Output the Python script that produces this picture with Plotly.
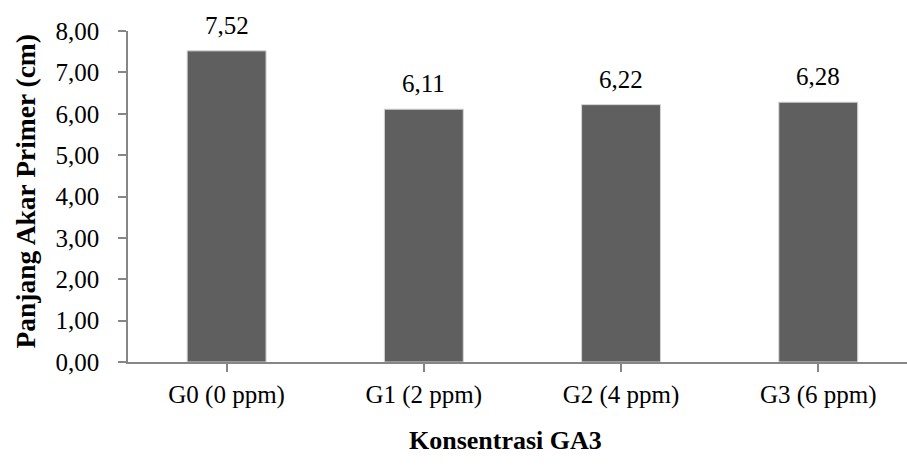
import plotly.graph_objects as go

categories = ["G0 (0 ppm)", "G1 (2 ppm)", "G2 (4 ppm)", "G3 (6 ppm)"]
values = [7.52, 6.11, 6.22, 6.28]
value_labels = ["7,52", "6,11", "6,22", "6,28"]
y_title = "Panjang Akar Primer (cm)"
x_title = "Konsentrasi GA3"

FONT = "Liberation Serif"
AXIS = "#868686"

W, H = 907, 466
L, R, T, B = 128, 0, 31, 104

fig = go.Figure()
fig.add_trace(go.Bar(
    x=list(range(len(categories))), y=values,
    width=0.4,
    marker=dict(color="#5f5f5f", line=dict(color="#d4d4d4", width=1)),
    hoverinfo="skip",
))

for i, (v, lab) in enumerate(zip(values, value_labels)):
    fig.add_annotation(x=i, y=v, text=lab, showarrow=False, xref="x", yref="y",
                       yanchor="bottom", yshift=10,
                       font=dict(family=FONT, size=25, color="black"))

fig.add_annotation(text="<b>%s</b>" % y_title, textangle=-90, showarrow=False,
                   xref="paper", yref="paper", x=-(L - 25) / (W - L - R), xanchor="center",
                   y=0.5, yanchor="middle", yshift=5,
                   font=dict(family=FONT, size=27.5, color="black"))
fig.add_annotation(text="<b>%s</b>" % x_title, showarrow=False,
                   xref="paper", yref="paper", x=(505 - L) / (W - L - R), xanchor="center",
                   y=-(440 - (H - B)) / (H - T - B), yanchor="middle",
                   font=dict(family=FONT, size=26, color="black"))

fig.update_layout(
    width=W, height=H,
    margin=dict(l=L, r=R, t=T, b=B, pad=0),
    paper_bgcolor="white", plot_bgcolor="white",
    separators=",.",
    showlegend=False,
    font=dict(family=FONT, size=25, color="black"),
)
fig.update_xaxes(
    range=[-0.5, 3.45],
    tickmode="array", tickvals=list(range(len(categories))), ticktext=categories,
    tickson="boundaries",
    ticks="outside", ticklen=8, tickcolor=AXIS, tickwidth=1.5,
    showline=True, linecolor=AXIS, linewidth=1.5,
    showgrid=False, zeroline=False,
    ticklabelstandoff=1,
    tickfont=dict(family=FONT, size=25, color="black"),
)
fig.update_yaxes(
    range=[0, 8], dtick=1, tick0=0, tickformat=".2f",
    ticks="outside", ticklen=8, tickcolor=AXIS, tickwidth=1.5,
    showline=True, linecolor=AXIS, linewidth=1.5,
    showgrid=False, zeroline=False,
    ticklabelstandoff=14,
    tickfont=dict(family=FONT, size=25, color="black"),
)

fig.write_html("out.html")
